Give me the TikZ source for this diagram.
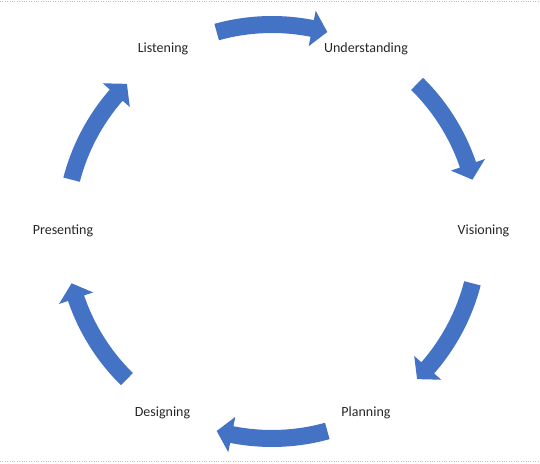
\documentclass[tikz,border=0pt]{standalone}
\usepackage{fontspec}
\setmainfont{Carlito}
\usepackage{xcolor}
\definecolor{cycleblue}{HTML}{4472C4}
\definecolor{labelgray}{HTML}{262626}
\tikzset{>=latex}

\begin{document}
\begin{tikzpicture}[x=1pt, y=1pt]
                        % O = centre of the cycle, arrows run clockwise
                        % shaft 198.5pt..215.5pt, head 189pt..225pt, tip on 207pt
                        \tikzstyle{every node}=[text=labelgray, font=\fontsize{14}{17}\selectfont]
                        \tikzstyle{flow}=[fill=cycleblue, draw=none]
                        \useasboundingbox (0,0) rectangle (540,463);
                        \draw[black!25, dotted] (0,462) -- (540,462);
                        \draw[black!25, dotted] (0,2) -- (540,2);
                        \coordinate (O) at (272,231.5);
                        \node (Li) at (163,414) {Listening};
                        \node (Un) at (366,414) {Understanding};
                        \node (Vi) at (483.5,232) {Visioning};
                        \node (Pl) at (366,50) {Planning};
                        \node (De) at (162.5,50) {Designing};
                        \node (Pr) at (63,232) {Presenting};

                        \begin{scope}[shift={(O)}]
                        % Listening -> Understanding
                        \path[flow] (105.5:215.5pt) arc[start angle=105.5, end angle=78.8, radius=215.5pt]
                                -- (78.8:225pt) -- (74.5:207pt) -- (78.8:189pt)
                                -- (78.8:198.5pt) arc[start angle=78.8, end angle=105.5, radius=198.5pt] -- cycle;

                        % Understanding -> Visioning
                        \path[flow] (45.5:215.5pt) arc[start angle=45.5, end angle=18.8, radius=215.5pt]
                                -- (18.8:225pt) -- (14.5:207pt) -- (18.8:189pt)
                                -- (18.8:198.5pt) arc[start angle=18.8, end angle=45.5, radius=198.5pt] -- cycle;

                        % Visioning -> Planning
                        \path[flow] (-14.5:215.5pt) arc[start angle=-14.5, end angle=-41.2, radius=215.5pt]
                                -- (-41.2:225pt) -- (-45.5:207pt) -- (-41.2:189pt)
                                -- (-41.2:198.5pt) arc[start angle=-41.2, end angle=-14.5, radius=198.5pt] -- cycle;

                        % Planning -> Designing
                        \path[flow] (-74.5:215.5pt) arc[start angle=-74.5, end angle=-101.2, radius=215.5pt]
                                -- (-101.2:225pt) -- (-105.5:207pt) -- (-101.2:189pt)
                                -- (-101.2:198.5pt) arc[start angle=-101.2, end angle=-74.5, radius=198.5pt] -- cycle;

                        % Designing -> Presenting
                        \path[flow] (-134.5:215.5pt) arc[start angle=-134.5, end angle=-161.2, radius=215.5pt]
                                -- (-161.2:225pt) -- (-165.5:207pt) -- (-161.2:189pt)
                                -- (-161.2:198.5pt) arc[start angle=-161.2, end angle=-134.5, radius=198.5pt] -- cycle;

                        % Presenting -> Listening
                        \path[flow] (165.5:215.5pt) arc[start angle=165.5, end angle=138.8, radius=215.5pt]
                                -- (138.8:225pt) -- (134.5:207pt) -- (138.8:189pt)
                                -- (138.8:198.5pt) arc[start angle=138.8, end angle=165.5, radius=198.5pt] -- cycle;
                        \end{scope}

                \end{tikzpicture}
\end{document}
